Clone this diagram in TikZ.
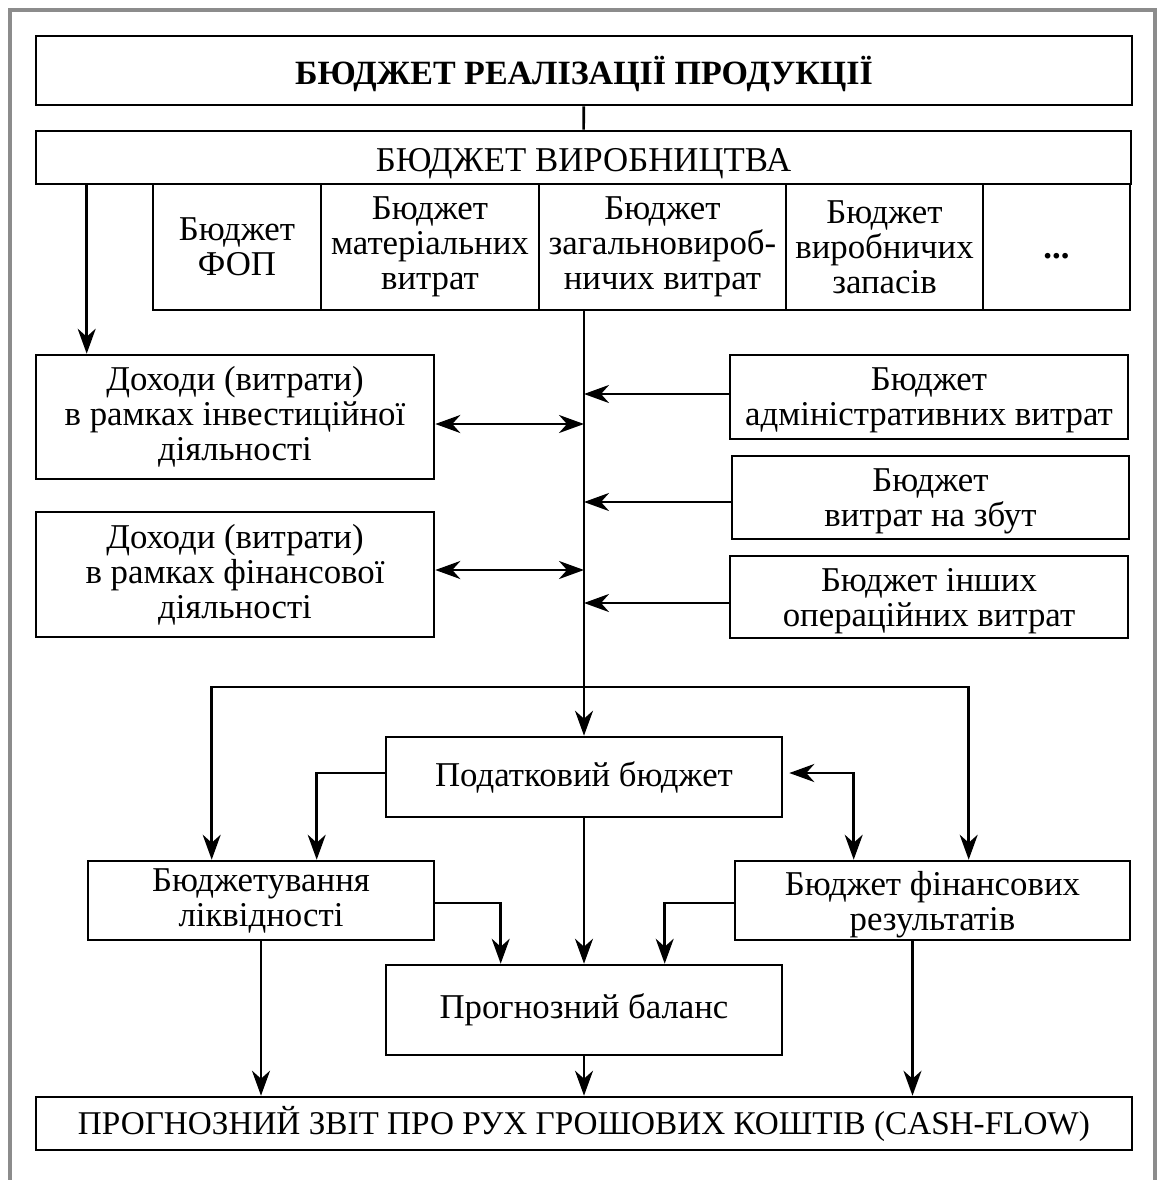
\documentclass[tikz,border=0pt]{standalone}
\usepackage{fontspec}
\setmainfont{Liberation Serif}
\usetikzlibrary{arrows.meta}

\begin{document}
\begin{tikzpicture}[x=0.5pt,y=-0.5pt,
  box/.style={draw, line width=1.3pt, align=center, inner sep=0pt,
    font=\fontsize{17.4pt}{17.5pt}\selectfont},
  low/.style={text depth=-5pt},
  caps/.style={text height=15pt, text depth=1pt},
  link/.style={line width=1.3pt},
  arr/.style={link, -{Stealth[length=12.5pt,width=9pt,inset=4pt]}},
  arrs/.style={link, {Stealth[length=12.5pt,width=9pt,inset=4pt]}-{Stealth[length=12.5pt,width=9pt,inset=4pt]}}]

\useasboundingbox (0,0) rectangle (1160,1180);

%draw grey frame
\draw[black!45, line width=2pt] (10,1180) -- (10,10) -- (1155,10) -- (1155,1180);

%draw top boxes
\node[box, caps, minimum width=548pt, minimum height=34.5pt, font=\fontsize{17pt}{17.5pt}\selectfont\bfseries] (sales) at (584,70.5) {БЮДЖЕТ РЕАЛІЗАЦІЇ ПРОДУКЦІЇ};
\node[box, caps, minimum width=547.5pt, minimum height=26.5pt] (prod) at (583.5,157.5) {БЮДЖЕТ ВИРОБНИЦТВА};

%draw row of budgets
\node[box, minimum width=84pt, minimum height=63pt] (fop) at (237,247) {Бюджет\\ФОП};
\node[box, minimum width=109pt, minimum height=63pt] (mat) at (430,247) {Бюджет\\матеріальних\\витрат};
\node[box, minimum width=123.5pt, minimum height=63pt] (zag) at (662.5,247) {Бюджет\\загальновироб-\\ничих витрат};
\node[box, minimum width=98.5pt, minimum height=63pt] (zap) at (884.5,247) {Бюджет\\виробничих\\запасів};
\node[box, minimum width=73.5pt, minimum height=63pt, text height=15pt, text depth=4pt, font=\fontsize{17.4pt}{17.5pt}\selectfont\bfseries] (more) at (1056.5,247) {...};

%draw left boxes
\node[box, minimum width=199pt, minimum height=62pt] (inv) at (235,417) {Доходи (витрати)\\в рамках інвестиційної\\діяльності};
\node[box, minimum width=199pt, minimum height=62.5pt] (fin) at (235,574.5) {Доходи (витрати)\\в рамках фінансової\\діяльності};

%draw right boxes
\node[box, low, minimum width=199pt, minimum height=42pt] (adm) at (929,397) {Бюджет\\адміністративних витрат};
\node[box, low, minimum width=198.5pt, minimum height=41.5pt] (sbut) at (930.5,497.5) {Бюджет\\витрат на збут};
\node[box, low, minimum width=199pt, minimum height=41pt] (other) at (929,597) {Бюджет інших\\операційних витрат};

%draw lower boxes
\node[box, minimum width=198pt, minimum height=40pt] (tax) at (584,777) {Податковий бюджет};
\node[box, minimum width=173pt, minimum height=39.5pt] (liq) at (261,900.5) {Бюджетування\\ліквідності};
\node[box, low, minimum width=197.5pt, minimum height=39.5pt] (res) at (932.5,900.5) {Бюджет фінансових\\результатів};
\node[box, minimum width=198pt, minimum height=45pt] (bal) at (584,1010) {Прогнозний баланс};
\node[box, minimum width=548pt, minimum height=26.5pt, font=\fontsize{16.6pt}{17.5pt}\selectfont] (cash) at (584,1123.5) {ПРОГНОЗНИЙ ЗВІТ ПРО РУХ ГРОШОВИХ КОШТІВ (CASH-FLOW)};

%connectors at the top
\draw[link] (sales) -- (prod);
\draw[arr] ([xshift=26pt]prod.south west) -- ([xshift=26pt]inv.north west);
\draw[arr] (zag.south -| tax.north) -- (tax.north);

%arrows into the vertical line
\coordinate (a1) at ([yshift=1.5pt]adm.west);
\coordinate (a2) at ([yshift=-2.25pt]sbut.west);
\coordinate (a3) at ([yshift=-3pt]other.west);
\foreach \c in {a1,a2,a3}
\draw[arr] (\c) -- (\c -| tax.north);

\coordinate (d1) at ([yshift=-3.5pt]inv.east);
\coordinate (d2) at ([yshift=2.25pt]fin.east);
\foreach \c in {d1,d2}
\draw[arrs] (\c) -- (\c -| tax.north);

%split line
\coordinate (split) at (584,687);
\draw[arr] (split) -| ([xshift=62.5pt]liq.north west);
\draw[arr] (split) -| ([xshift=117.5pt]res.north west);

%tax budget links
\coordinate (t1) at ([yshift=2pt]tax.west);
\draw[arr] (t1) -| ([xshift=115pt]liq.north west);
\coordinate (t2) at ([yshift=2pt,xshift=3pt]tax.east);
\draw[arrs] (t2) -| ([xshift=60pt]res.north west);
\draw[arr] (tax) -- (bal);

%into the balance
\coordinate (l1) at ([yshift=-1.25pt]liq.east);
\draw[arr] (l1) -| ([xshift=58pt]bal.north west);
\coordinate (r1) at ([yshift=-1.25pt]res.west);
\draw[arr] (r1) -| ([xshift=140pt]bal.north west);

%into cash-flow
\draw[arr] (liq.south) -- (liq.south |- cash.north);
\coordinate (r2) at ([xshift=-10pt]res.south);
\draw[arr] (r2) -- (r2 |- cash.north);
\draw[arr] (bal) -- (cash);
\end{tikzpicture}
\end{document}
